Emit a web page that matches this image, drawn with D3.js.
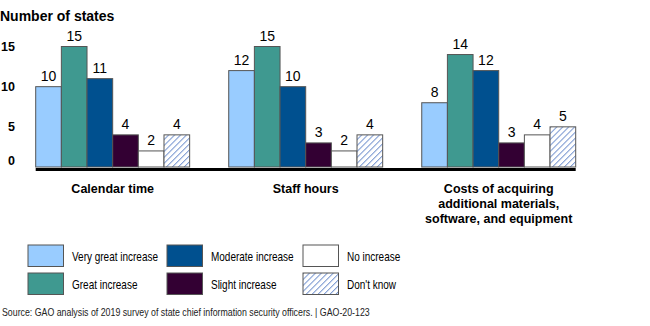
<!DOCTYPE html>
<html>
<head>
<meta charset="utf-8">
<script src="https://cdn.jsdelivr.net/npm/d3@7"></script>
<style>
  body { margin: 0; background: #fff; }
  svg { display: block; font-family: "Liberation Sans", Arial, sans-serif; }
</style>
</head>
<body>
<svg id="chart" width="650" height="326"></svg>
<script>
'use strict';

// chart data
var categories = ["Calendar time", "Staff hours", "Costs of acquiring additional materials, software, and equipment"];
var categoryLines = [["Calendar time"], ["Staff hours"], ["Costs of acquiring", "additional materials,", "software, and equipment"]];
var seriesNames = ["Very great increase", "Great increase", "Moderate increase", "Slight increase", "No increase", "Don't know"];
var calendarTime = [10, 15, 11, 4, 2, 4];
var staffHours = [12, 15, 10, 3, 2, 4];
var acquiringCosts = [8, 14, 12, 3, 4, 5];
var yTicks = [0, 5, 10, 15];

var seriesColors = ["#99ccff", "#3f9990", "#00508f", "#330033", "#ffffff", "url(#hatch)"];
var valuesByCategory = [calendarTime, staffHours, acquiringCosts];

// no narrow font installed, so squeeze the regular one
var narrow = 0.8;

var svg = d3.select("#chart");

// hatch pattern for "Don't know"
var pat = svg.append("defs").append("pattern")
  .attr("id", "hatch")
  .attr("patternUnits", "userSpaceOnUse")
  .attr("width", 4.2).attr("height", 4.2)
  .attr("patternTransform", "rotate(45)");
pat.append("rect").attr("width", 4.2).attr("height", 4.2).attr("fill", "#fff");
pat.append("line")
  .attr("x1", 0.5).attr("y1", 0).attr("x2", 0.5).attr("y2", 4.2)
  .attr("stroke", "#6b8ccc").attr("stroke-width", 0.9);

// scales
var x0 = d3.scaleBand().domain(categories).range([35.7, 575.7]).paddingInner(0.2024).paddingOuter(0);
var x1 = d3.scaleBand().domain(seriesNames).range([0, x0.bandwidth()]);
var y = d3.scaleLinear().domain([0, 15]).range([167, 46.5]);

// title
svg.append("text")
  .attr("x", 0).attr("y", 21)
  .attr("font-size", 14).attr("font-weight", "bold")
  .text("Number of states");

// y axis labels (no line, no ticks)
var yAxis = svg.append("g")
  .attr("transform", "translate(15,0)")
  .call(d3.axisLeft(y).tickValues(yTicks).tickSize(0).tickPadding(0));
yAxis.select(".domain").remove();
yAxis.selectAll("text")
  .attr("font-family", null)
  .attr("font-size", 12.5)
  .attr("font-weight", "bold")
  .attr("fill", "#000")
  .attr("dy", d => d === 0 ? "-0.23em" : "0.32em");

// bars
var groups = svg.append("g").selectAll("g")
  .data(categories)
  .join("g")
  .attr("transform", d => "translate(" + x0(d) + ",0)");

groups.selectAll("rect")
  .data((d, i) => valuesByCategory[i].map((v, j) => ({ key: seriesNames[j], value: v, color: seriesColors[j] })))
  .join("rect")
  .attr("x", d => x1(d.key))
  .attr("y", d => y(d.value))
  .attr("width", x1.bandwidth())
  .attr("height", d => y(0) - y(d.value))
  .attr("fill", d => d.color)
  .attr("stroke", "#555")
  .attr("stroke-width", 1);

groups.selectAll("text.val")
  .data((d, i) => valuesByCategory[i].map((v, j) => ({ key: seriesNames[j], value: v })))
  .join("text")
  .attr("class", "val")
  .attr("x", d => x1(d.key) + x1.bandwidth() / 2)
  .attr("y", d => y(d.value) - 6)
  .attr("text-anchor", "middle")
  .attr("font-size", 14)
  .text(d => d.value);

// baseline
svg.append("line")
  .attr("x1", x0.range()[0]).attr("x2", x0.range()[1])
  .attr("y1", y(0) + 2.5).attr("y2", y(0) + 2.5)
  .attr("stroke", "#000").attr("stroke-width", 3);

// category labels
var catLabels = svg.append("g").selectAll("text")
  .data(categories)
  .join("text")
  .attr("text-anchor", "middle")
  .attr("font-size", 12.5)
  .attr("font-weight", "bold")
  .attr("transform", d => "translate(" + (x0(d) + x0.bandwidth() / 2) + ",192.5)");
catLabels.selectAll("tspan")
  .data((d, i) => categoryLines[i])
  .join("tspan")
  .attr("x", 0)
  .attr("y", (d, i) => i * 15)
  .text(d => d);

// legend, column major
var legendCols = [28, 167, 303];
var legendRows = [245, 273];
var legend = svg.append("g").selectAll("g")
  .data(seriesNames)
  .join("g")
  .attr("transform", (d, i) => "translate(" + legendCols[Math.floor(i / 2)] + "," + legendRows[i % 2] + ")");

legend.append("rect")
  .attr("width", 35.5).attr("height", 21.5)
  .attr("fill", (d, i) => seriesColors[i])
  .attr("stroke", "#555")
  .attr("stroke-width", 1);

legend.append("text")
  .attr("transform", "translate(44,15.5) scale(" + narrow + ",1)")
  .attr("font-size", 12.5)
  .text(d => d);

// source note
svg.append("text")
  .attr("transform", "translate(2,315.5) scale(" + narrow + ",1)")
  .attr("font-size", 11)
  .attr("fill", "#222")
  .text("Source: GAO analysis of 2019 survey of state chief information security officers.  |  GAO-20-123");
</script>
</body>
</html>
